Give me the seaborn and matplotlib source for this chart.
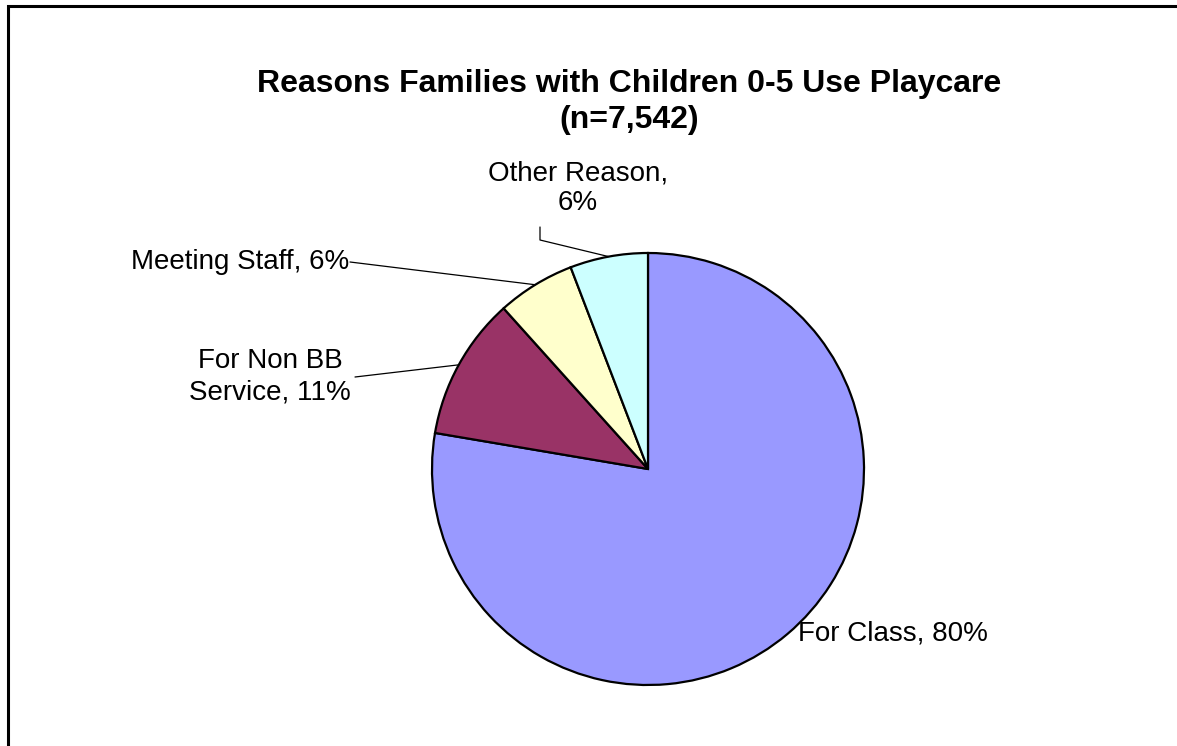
import numpy as np
import seaborn as sns
import matplotlib.pyplot as plt
from matplotlib.patches import Rectangle

# =============================================================================
# Data
# =============================================================================

reasons = ["For Class", "For Non BB\nService", "Meeting Staff", "Other Reason,\n"]
shares = [80, 11, 6, 6]
colours = ["#9999FF", "#993366", "#FFFFCC", "#CCFFFF"]
title = "Reasons Families with Children 0-5 Use Playcare\n(n=7,542)"

# =============================================================================
# Pie chart (axes in pixel units, 1 unit = 1 px)
# =============================================================================

sns.set_style("white")
plt.rcParams["font.family"] = ["Liberation Sans", "DejaVu Sans"]
plt.rcParams["text.color"] = "black"

W, H = 1177, 746
f = plt.figure(figsize=(W / 100, H / 100), dpi=100)
ax = f.add_axes([0, 0, 1, 1])

cx, cy, r = 648, 469, 216
# y axis is inverted, so counterclockwise from -90 is clockwise from the top
wedges, _ = ax.pie(shares, colors=colours, startangle=-90, counterclock=True,
                   center=(cx, cy), radius=r, frame=True,
                   wedgeprops=dict(edgecolor="black", linewidth=1.6))
ax.set_xlim(0, W)
ax.set_ylim(H, 0)
ax.set_aspect("equal")
ax.axis("off")


def edge_point(w):
    t = np.deg2rad((w.theta1 + w.theta2) / 2)
    return cx + r * np.cos(t), cy + r * np.sin(t)


labels = []
for name, v in zip(reasons, shares):
    sep = "" if name.endswith("\n") else ", "
    labels.append(f"{name}{sep}{v}%")

fs = 20
ax.text(893, 633, labels[0], ha="center", va="center", fontsize=fs)

# For Non BB Service
ax.text(270, 377, labels[1], ha="center", va="center", fontsize=fs,
        linespacing=1.25)
ex, ey = edge_point(wedges[1])
ax.plot([355, ex], [377, ey], color="black", lw=0.9)

# Meeting Staff
ax.text(349, 262, labels[2], ha="right", va="center", fontsize=fs)
ex, ey = edge_point(wedges[2])
ax.plot([350, ex], [262, ey], color="black", lw=0.9)

# Other Reason
ax.text(578, 188, labels[3], ha="center", va="center", fontsize=fs,
        linespacing=1.15)
ex, ey = edge_point(wedges[3])
ax.plot([540, 540, ex], [227, 240, ey], color="black", lw=0.9)

# title
ax.text(629, 102, title, ha="center", va="center", fontsize=23,
        fontweight="bold", linespacing=1.22)

# chart area border
f.add_artist(Rectangle((8 / W, -0.1), 1.2, 1.1 - 6 / H, fill=False,
                       edgecolor="black", linewidth=2.2,
                       transform=f.transFigure))

f.savefig("out.png", dpi=100)
